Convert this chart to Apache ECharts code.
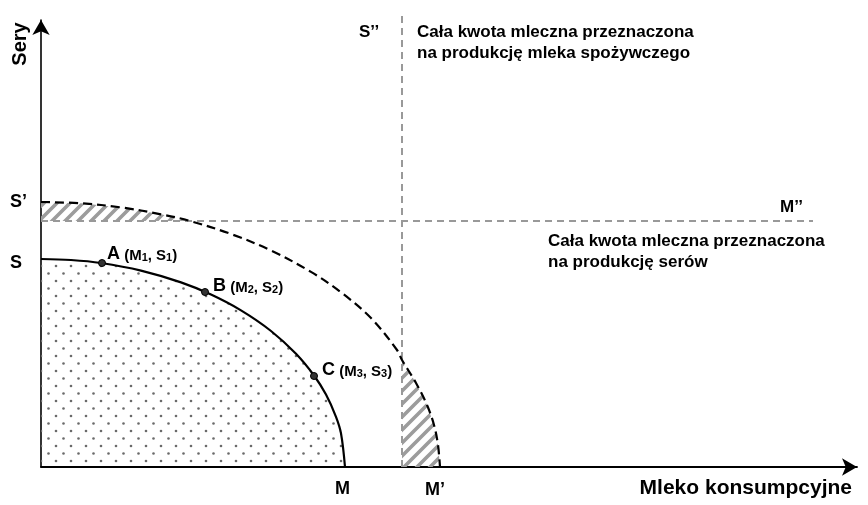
<!DOCTYPE html>
<html><head><meta charset="utf-8">
<script src="https://cdn.jsdelivr.net/npm/echarts@6/dist/echarts.min.js"></script>
<style>html,body{margin:0;padding:0;background:#fff}#c{width:868px;height:505px}</style>
</head><body><div id="c"></div>
<script>
// Data units: 1 unit ~ 1 px, origin at the axes crossing
const innerX = [0, 30, 60, 100, 140, 170, 200, 230, 255, 273, 285, 295, 300, 304];
const innerY = [208, 207, 204, 196.4, 184.6, 172.4, 156.6, 136, 113.2, 91.5, 72.4, 50.2, 33.6, 0];
const outerX = [0, 40, 80, 120, 149, 190, 230, 270, 300, 330, 356, 361, 375, 386, 393, 397, 399];
const outerY = [265, 263.7, 259.6, 252.7, 246, 233, 216.5, 195.1, 174.7, 149, 117, 107, 84, 62, 42, 22, 0];
const pointNames = ['A', 'B', 'C'];
const pointSub = ['1', '2', '3'];
const pointX = [61, 164, 273];
const pointY = [204, 175, 91];
const lineS2x = 361;      // S'' vertical line (x)
const lineS2top = 454;
const lineM2y = 246;      // M'' horizontal line (y)
const lineM2end = 772;
const xMax = 816, yMax = 447;

const FAMILY = '"Liberation Sans", Arial, sans-serif';

function makeHatch() {
  const c = document.createElement('canvas');
  const s = 13;
  c.width = s; c.height = s;
  const g = c.getContext('2d');
  g.strokeStyle = '#9c9c9c';
  g.lineWidth = 3.6;
  g.beginPath();
  g.moveTo(-s, s); g.lineTo(s, -s);
  g.moveTo(0, 2 * s); g.lineTo(2 * s, 0);
  g.moveTo(-s, 2 * s); g.lineTo(2 * s, -s);
  g.stroke();
  return c;
}
function makeDots() {
  const c = document.createElement('canvas');
  const s = 15;
  c.width = s; c.height = s;
  const g = c.getContext('2d');
  g.fillStyle = '#6a6a6a';
  [[3.5, 3.5], [11, 11]].forEach(p => {
    g.beginPath(); g.arc(p[0], p[1], 1.3, 0, Math.PI * 2); g.fill();
  });
  return c;
}
const hatch = { image: makeHatch(), repeat: 'repeat' };
const dots = { image: makeDots(), repeat: 'repeat' };

const zip = (a, b) => a.map((v, i) => [v, b[i]]);
const innerData = zip(innerX, innerY);
const outerData = zip(outerX, outerY);

const polyTop = outerData.filter(p => p[0] <= 149).concat([[0, lineM2y]]);
const polyRight = [[lineS2x, 0]].concat(outerData.filter(p => p[0] >= lineS2x));
const hatchPolys = [polyTop, polyRight];

const chart = echarts.init(document.getElementById('c'), null, { renderer: 'canvas' });

const txt = (text, x, y, size, align, extra) => Object.assign({
  type: 'text', x: x, y: y,
  style: { text: text, font: 'bold ' + size + 'px ' + FAMILY, fill: '#000',
           align: align || 'left', verticalAlign: 'middle' }
}, extra || {});

const rt = (size, lh) => ({ fontSize: size, fontWeight: 'bold', fontFamily: FAMILY, color: '#000',
                            lineHeight: lh, verticalAlign: 'bottom' });

chart.setOption({
  animation: false,
  grid: { left: 41, right: 11, top: 20, bottom: 38 },
  xAxis: {
    type: 'value', min: 0, max: xMax,
    splitLine: { show: false }, axisTick: { show: false }, axisLabel: { show: false },
    axisLine: { show: true, onZero: false, symbol: ['none', 'arrow'], symbolSize: [13, 15],
                lineStyle: { color: '#000', width: 1.8 } }
  },
  yAxis: {
    type: 'value', min: 0, max: yMax,
    splitLine: { show: false }, axisTick: { show: false }, axisLabel: { show: false },
    axisLine: { show: true, onZero: false, symbol: ['none', 'arrow'], symbolSize: [13, 15],
                lineStyle: { color: '#000', width: 1.6 } }
  },
  series: [
    {
      type: 'line', data: innerData, smooth: 0.35, symbol: 'none',
      lineStyle: { width: 0 }, areaStyle: { color: dots, opacity: 1 }, z: 1
    },
    {
      type: 'custom', data: [0, 1], z: 2,
      renderItem: function (params, api) {
        const pts = hatchPolys[params.dataIndex].map(p => api.coord(p));
        return { type: 'polygon', shape: { points: pts }, style: { fill: hatch, stroke: null } };
      }
    },
    {
      type: 'line', data: [[lineS2x, 0], [lineS2x, lineS2top]], symbol: 'none', clip: false, z: 3,
      lineStyle: { color: '#999', width: 2, type: [7, 5] }
    },
    {
      type: 'line', data: [[0, lineM2y], [lineM2end, lineM2y]], symbol: 'none', z: 3,
      lineStyle: { color: '#999', width: 2, type: [7, 5] }
    },
    {
      type: 'line', data: outerData, smooth: 0.35, symbol: 'none', z: 4,
      lineStyle: { color: '#000', width: 2.2, type: [9, 5] }
    },
    {
      type: 'line', data: innerData, smooth: 0.35, symbol: 'none', z: 5,
      lineStyle: { color: '#000', width: 2.2 }
    },
    {
      type: 'scatter', z: 6, symbol: 'circle', symbolSize: 7,
      itemStyle: { color: '#333', borderColor: '#000', borderWidth: 1, opacity: 1 },
      data: pointNames.map((n, i) => ({
        value: [pointX[i], pointY[i]], name: n,
        label: { offset: i === 0 ? [0, -9] : [0, -6], distance: i === 0 ? 1 : 4 }
      })),
      label: {
        show: true, position: 'right',
        formatter: function (p) {
          const s = pointSub[p.dataIndex];
          return '{l|' + p.name + '}{t| (M}{s|' + s + '}{t|, S}{s|' + s + '}{t|)}';
        },
        rich: {
          l: rt(18, 19),
          t: rt(15, 17),
          s: rt(11, 9)
        }
      }
    }
  ],
  graphic: [
    txt('Sery', 20, 44, 20, 'center', { rotation: Math.PI / 2 }),
    txt('S\u2019', 10, 202, 18),
    txt('S', 10, 263, 18),
    txt('M', 335, 489, 18),
    txt('M\u2019', 425, 490, 18),
    txt('S\u2019\u2019', 359, 32, 17),
    txt('M\u2019\u2019', 780, 207, 17),
    txt('Cała kwota mleczna przeznaczona', 417, 32, 17),
    txt('na produkcję mleka spożywczego', 417, 53, 17),
    txt('Cała kwota mleczna przeznaczona', 548, 241, 17),
    txt('na produkcję serów', 548, 262, 17),
    txt('Mleko konsumpcyjne', 852, 488, 21, 'right')
  ]
});
</script>
</body></html>
